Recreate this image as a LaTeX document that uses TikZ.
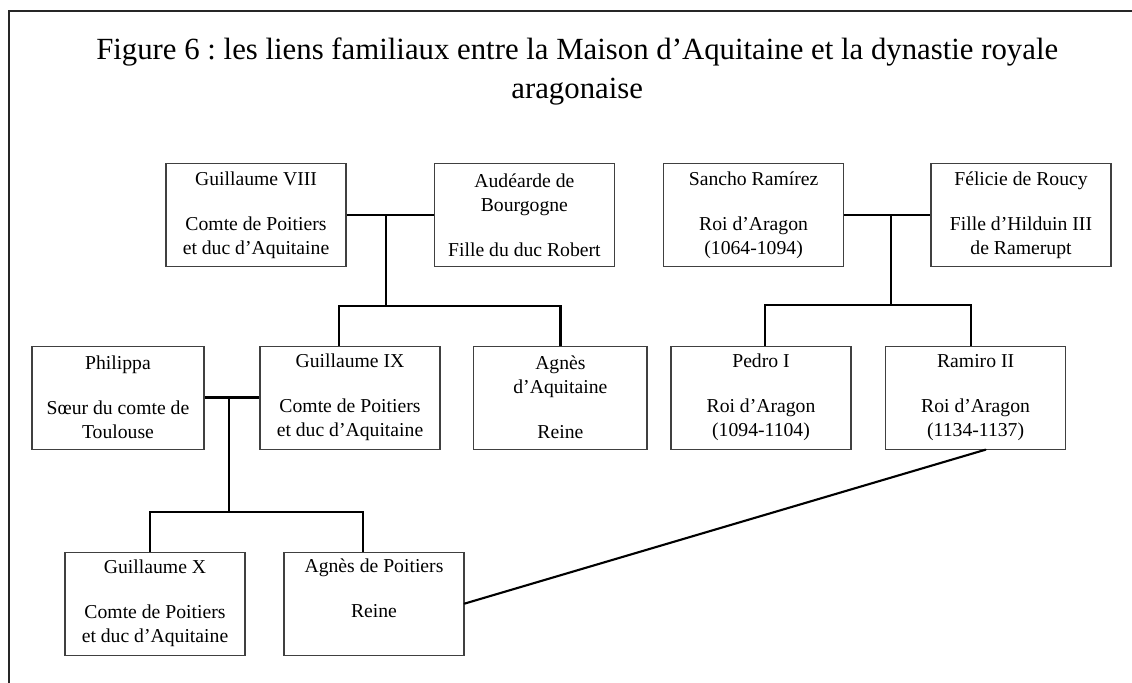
\documentclass[tikz,border=0pt]{standalone}
\usepackage{fontspec}
\setmainfont{Liberation Serif}
\usepackage{tikz}
\frenchspacing

\begin{document}
\begin{tikzpicture}
		[line cap=round,
		%Styles
		frame line/.style={line width=1.4pt,black!85},
		family line/.style={line width=1.8pt,line cap=butt},
		title text/.style={align=center,inner sep=0pt,anchor=north,font=\fontsize{21.9}{27.7}\selectfont},
		person node/.style={rectangle,draw=black!75,line width=.8pt,align=center,inner sep=2pt,
			minimum width=4.5cm,minimum height=2.575cm,font=\fontsize{14}{17.1}\selectfont}
		]
		
		%Page
		\clip (0,0) rectangle (28.3,-17.05);
		\draw[frame line] (0.225,-18) -- (0.225,-0.275) -- (29,-0.275);
		
		\node[title text] (T) at (14.43,-0.95) {Figure 6 : les liens familiaux entre la Maison d’Aquitaine et la dynastie royale\\aragonaise};
		
		%The graphic
		\node[person node] (G8) at (6.40,-5.375) {Guillaume VIII\\[15pt]Comte de Poitiers\\et duc d’Aquitaine};
		\node[person node] (Aud) at (13.11,-5.375) {Audéarde de\\Bourgogne\\[15pt]Fille du duc Robert};
		\node[person node] (Sancho) at (18.84,-5.375) {Sancho Ramírez\\[15pt]Roi d’Aragon\\(1064-1094)};
		\node[person node] (Felicie) at (25.525,-5.375) {Félicie de Roucy\\[15pt]Fille d’Hilduin III\\de Ramerupt};
		
		\node[person node,minimum width=4.3cm] (Philippa) at (2.95,-9.94) {Philippa\\[15pt]Sœur du comte de\\Toulouse};
		\node[person node] (G9) at (8.75,-9.94) {Guillaume IX\\[15pt]Comte de Poitiers\\et duc d’Aquitaine};
		\node[person node,minimum width=4.33cm] (AgnesA) at (14.01,-9.94) {Agnès\\d’Aquitaine\\[15pt]Reine};
		\node[person node] (Pedro) at (19.025,-9.94) {Pedro I\\[15pt]Roi d’Aragon\\(1094-1104)};
		\node[person node] (Ramiro) at (24.39,-9.94) {Ramiro II\\[15pt]Roi d’Aragon\\(1134-1137)};
		
		\node[person node] (G10) at (3.875,-15.09) {Guillaume X\\[15pt]Comte de Poitiers\\et duc d’Aquitaine};
		\node[person node] (AgnesP) at (9.35,-15.09) {Agnès de Poitiers\\[15pt]Reine\\\strut};
		
		%Marriages
		\coordinate (m1) at (9.65,-5.375);
		\coordinate (b1) at (9.65,-7.65);
		\coordinate (m2) at (22.275,-5.375);
		\coordinate (b2) at (22.275,-7.625);
		\coordinate (m3) at (5.725,-9.94);
		\coordinate (b3) at (5.725,-12.8);
		
		\draw[family line] (G8.east) -- (Aud.west);
		\draw[family line] (m1) -- (b1);
		\draw[family line] ([xshift=-.275cm]G9.north) |- (b1) -| (AgnesA.north);
		
		\draw[family line] (Sancho.east) -- (Felicie.west);
		\draw[family line] (m2) -- (b2);
		\draw[family line] ([xshift=.1cm]Pedro.north) |- (b2) -| ([xshift=-.115cm]Ramiro.north);
		
		\draw[family line] (Philippa.east) -- (G9.west);
		\draw[family line] (m3) -- (b3);
		\draw[family line] ([xshift=-.125cm]G10.north) |- (b3) -| ([xshift=-.275cm]AgnesP.north);
		
		\draw[line width=1.5pt] (AgnesP.east) -- ([xshift=.25cm]Ramiro.south);
	\end{tikzpicture}
\end{document}
